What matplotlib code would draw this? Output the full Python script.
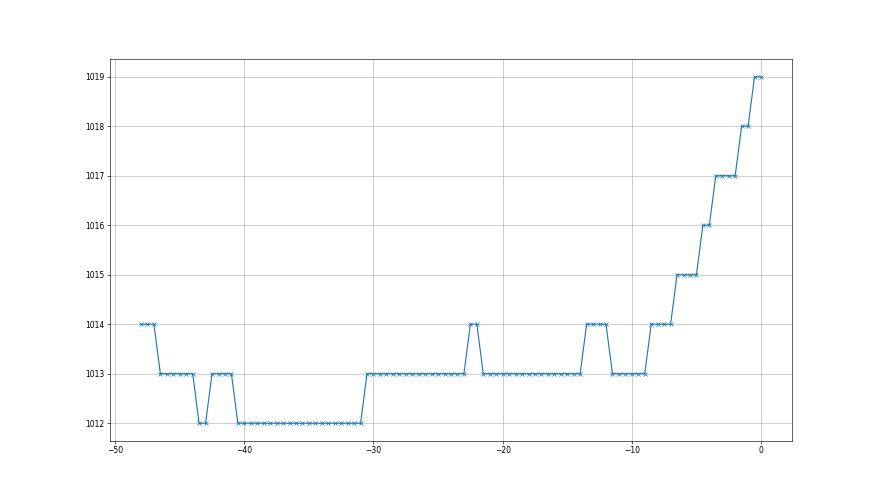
import numpy as np
import matplotlib
matplotlib.use('Agg')
import matplotlib.pyplot as plt

# time offsets (step of 0.5) and the pressure reading at each one
x_values = np.arange(-48, 0.5, 0.5)
pressure = ([1014] * 3 + [1013] * 6 + [1012] * 2 + [1013] * 4 +
            [1012] * 20 + [1013] * 16 + [1014] * 2 + [1013] * 16 +
            [1014] * 4 + [1013] * 6 + [1014] * 4 + [1015] * 4 +
            [1016] * 2 + [1017] * 4 + [1018] * 2 + [1019] * 2)

fig = plt.figure(figsize=(16, 9), dpi=55)
ax = fig.add_subplot(111)
ax.plot(x_values, pressure, marker='x')
ax.grid(True)

fig.savefig('out.png', dpi=55)
